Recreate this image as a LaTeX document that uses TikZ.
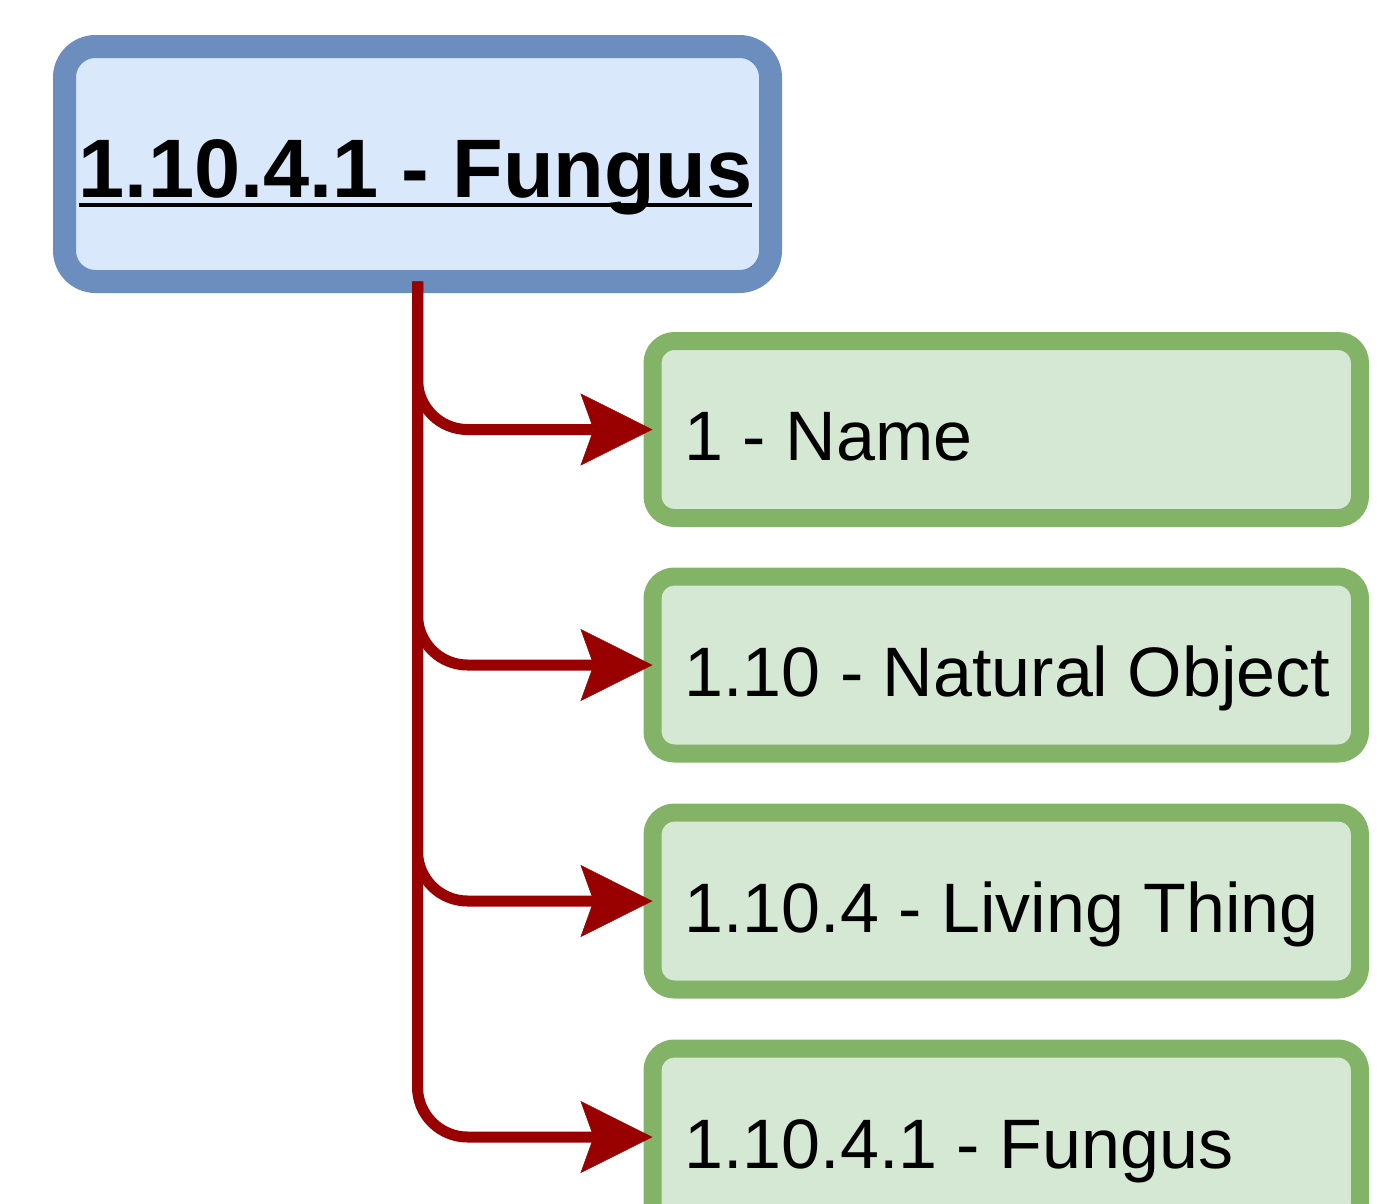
\documentclass[tikz,border=0pt]{standalone}
\usepackage{fontspec}
\setmainfont{Liberation Sans}
\usetikzlibrary{arrows.meta}
\definecolor{topfill}{HTML}{DAE8FC}
\definecolor{topline}{HTML}{6C8EBF}
\definecolor{subfill}{HTML}{D5E8D4}
\definecolor{subline}{HTML}{82B366}
\definecolor{linkred}{HTML}{990000}
\tikzset{
  topbox/.style={draw=topline, fill=topfill, line width=23pt, rounded corners=31pt,
    minimum width=706pt, minimum height=235pt, outer sep=0pt, inner sep=0pt},
  subbox/.style={draw=subline, fill=subfill, line width=18pt, rounded corners=22pt,
    minimum width=707.5pt, minimum height=177pt, outer sep=0pt, inner sep=0pt},
  titletext/.style={inner sep=0pt, outer sep=0pt, font=\fontsize{83}{99}\selectfont\bfseries},
  subtext/.style={inner sep=0pt, outer sep=0pt, anchor=base west, font=\fontsize{70}{84}\selectfont},
  uline/.style={line width=4.5pt},
  link/.style={draw=linkred, line width=11pt, rounded corners=50pt,
    -{Stealth[length=72pt, width=72pt, inset=13pt, line width=0.5pt, fill=linkred]}}
}
\begin{document}
\begin{tikzpicture}[x=1pt, y=-1pt]
  \clip (0,0) rectangle (1400,1203);
  % parent class
  \node[topbox] (top) at (417.5,164) {};
  \node[titletext, anchor=base] (toptxt) at ([xshift=-2pt, yshift=-33pt]top.center) {1.10.4.1 - Fungus};
  \draw[uline] ([yshift=-8pt]toptxt.base west) -- ([yshift=-8pt]toptxt.base east);
  % ancestor chain
  \node[subbox] (n1) at (1006.25,429.5) {};
  \node[subtext] (t1) at ([xshift=32pt, yshift=-31pt]n1.west) {1 - Name};
  \node[subbox] (n2) at (1006.25,665) {};
  \node[subtext] (t2) at ([xshift=32pt, yshift=-31pt]n2.west) {1.10 - Natural Object};
  \node[subbox] (n3) at (1006.25,901) {};
  \node[subtext] (t3) at ([xshift=32pt, yshift=-31pt]n3.west) {1.10.4 - Living Thing};
  \node[subbox] (n4) at (1006.25,1137) {};
  \node[subtext] (t4) at ([xshift=32pt, yshift=-31pt]n4.west) {1.10.4.1 - Fungus};
  % connectors
  \draw[link] (top.south) |- (n1.west);
  \draw[link] (top.south) |- (n2.west);
  \draw[link] (top.south) |- (n3.west);
  \draw[link] (top.south) |- (n4.west);
\end{tikzpicture}
\end{document}
